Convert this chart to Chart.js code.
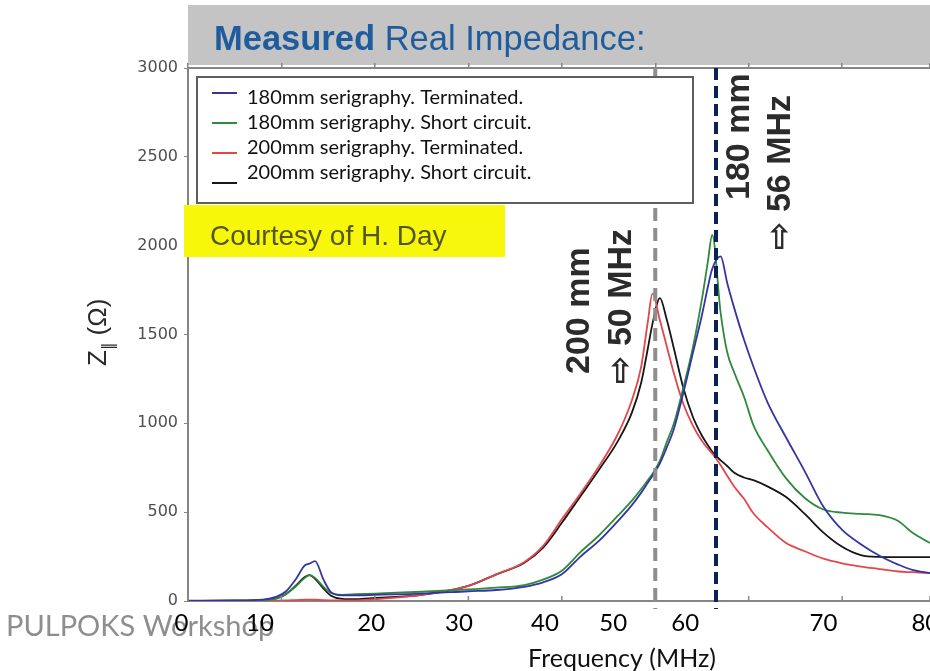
<!DOCTYPE html>
<html>
<head>
<meta charset="utf-8">
<script src="https://cdn.jsdelivr.net/npm/chart.js@4.4.0/dist/chart.umd.min.js"></script>
<style>
html, body { margin: 0; padding: 0; background: #fff; }
canvas { display: block; }
</style>
</head>
<body>
<canvas id="imp_chart" width="930" height="671"></canvas>
<script>
// frequency grid (MHz) shared by all four traces
const freq = [0, 5, 8, 9.5, 10.5, 11.5, 12.5, 13, 13.6, 14.5, 15.3, 16.5, 18, 20, 25, 30, 33, 36, 38, 40,
	42, 44, 46, 47.5, 48.5, 49.2, 49.7, 50.5, 51.2, 52, 53, 54, 55, 55.6, 56.1, 57, 57.7, 58.5, 59.5, 60.5,
	62, 64, 66, 68, 70, 72, 74, 76, 77.5, 79.4];

// real impedance (Ohm)
const z180term = [2, 3, 8, 25, 55, 120, 200, 210, 225, 120, 50, 32, 32, 35, 42, 55, 62, 80, 105, 150,
	250, 340, 450, 540, 610, 665, 705, 775, 860, 970, 1170, 1390, 1610, 1760, 1870, 1940, 1790, 1640, 1470, 1320,
	1120, 920, 730, 530, 400, 320, 255, 205, 175, 157];
const z180short = [1, 2, 5, 15, 40, 80, 130, 146, 130, 80, 45, 35, 38, 42, 52, 65, 75, 90, 120, 170,
	275, 370, 480, 565, 630, 680, 715, 790, 890, 1000, 1200, 1420, 1700, 1900, 2060, 1620, 1400, 1280, 1150, 990,
	850, 690, 580, 515, 497, 490, 483, 450, 385, 326];
const z200term = [0, 0, 1, 2, 3, 5, 7, 8, 7, 5, 4, 3, 4, 10, 35, 85, 150, 220, 310, 460,
	605, 760, 940, 1130, 1320, 1570, 1730, 1580, 1440, 1280, 1110, 990, 900, 860, 830, 764, 705, 640, 575, 494,
	416, 326, 280, 238, 212, 194, 180, 166, 162, 157];
const z200short = [0, 2, 5, 15, 40, 85, 135, 146, 125, 70, 30, 12, 10, 17, 34, 85, 150, 215, 300, 440,
	590, 740, 900, 1060, 1230, 1420, 1560, 1705, 1590, 1420, 1200, 1040, 930, 880, 840, 792, 760, 720, 695, 680,
	645, 585, 490, 385, 305, 258, 248, 247, 247, 247];

const series_names = [
	'180mm serigraphy. Terminated.',
	'180mm serigraphy. Short circuit.',
	'200mm serigraphy. Terminated.',
	'200mm serigraphy. Short circuit.'
];

// the slide's tick labels sit where they were pasted, not on the plot ticks
const x_label_text = ['0', '10', '20', '30', '40', '50', '60', '70', '80'];
const x_label_at = [-0.7, 7.7, 19.6, 29.0, 38.2, 45.5, 53.2, 68.0, 78.9];

const y_ticks = [0, 500, 1000, 1500, 2000, 2500, 3000];

// resonance markers
const marker_freq = [50, 56.5];
const marker_len = ['200 mm', '180 mm'];
const marker_mhz = ['\u21E8 50 MHz', '\u21E8 56 MHz'];

const title_bold = 'Measured';
const title_rest = 'Real Impedance:';
const courtesy = 'Courtesy of H. Day';
const footer = 'PULPOKS Workshop';
const x_title = 'Frequency (MHz)';

const line_settings = {
	fill: false,
	borderWidth: 1.8,
	pointRadius: 0,
	cubicInterpolationMode: 'monotone'
};

function pts(ys) {
	return freq.map((f, i) => ({ x: f, y: ys[i] }));
}

function vtext(ctx, txt, x, y) {
	ctx.save();
	ctx.translate(x, y);
	ctx.rotate(-Math.PI / 2);
	ctx.textAlign = 'left';
	ctx.textBaseline = 'middle';
	ctx.fillText(txt, 0, 0);
	ctx.restore();
}

const slide_plugin = {
	id: 'slide',
	beforeDraw(chart) {
		const ctx = chart.ctx;
		const area = chart.chartArea;
		ctx.save();
		ctx.fillStyle = '#fff';
		ctx.fillRect(0, 0, chart.width, chart.height);

		// grey header band + title
		ctx.fillStyle = '#c4c4c4';
		ctx.fillRect(area.left, 5, chart.width - area.left, area.top - 8);
		ctx.textBaseline = 'alphabetic';
		ctx.textAlign = 'left';
		ctx.fillStyle = '#1f5c9e';
		ctx.font = 'bold 34.5px "Liberation Sans"';
		ctx.fillText(title_bold, 214, 50);
		const w = ctx.measureText(title_bold + ' ').width;
		ctx.font = '34.5px "Liberation Sans"';
		ctx.fillText(title_rest, 214 + w, 50);

		// footer
		ctx.fillStyle = '#8e8e8e';
		ctx.font = '29px Lato';
		ctx.fillText(footer, 6, 636);
		ctx.restore();
	},
	afterDatasetsDraw(chart) {
		const ctx = chart.ctx;
		const area = chart.chartArea;
		const xs = chart.scales.x;
		ctx.save();

		// small inward ticks on the bottom frame
		ctx.strokeStyle = '#8a8a8a';
		ctx.lineWidth = 1.5;
		chart.scales.xTop.ticks.forEach(t => {
			const px = xs.getPixelForValue(t.value);
			ctx.beginPath();
			ctx.moveTo(px, area.bottom);
			ctx.lineTo(px, area.bottom - 5);
			ctx.stroke();
		});

		// dashed resonance lines
		const dash_col = ['#8e8e8e', '#0b2350'];
		const dash_pat = [[13, 7], [12, 6]];
		marker_freq.forEach((f, i) => {
			const px = xs.getPixelForValue(f);
			ctx.strokeStyle = dash_col[i];
			ctx.lineWidth = 4;
			ctx.setLineDash(dash_pat[i]);
			ctx.beginPath();
			ctx.moveTo(px, area.top);
			ctx.lineTo(px, area.bottom + 8);
			ctx.stroke();
		});
		ctx.setLineDash([]);

		// legend box
		ctx.fillStyle = '#fff';
		ctx.fillRect(197, 77, 496, 126);
		ctx.strokeStyle = '#5e5e5e';
		ctx.lineWidth = 2;
		ctx.strokeRect(197, 77, 496, 126);
		ctx.font = '20px Lato';
		ctx.textBaseline = 'middle';
		ctx.textAlign = 'left';
		chart.data.datasets.forEach((ds, i) => {
			const ty = 98 + i * 25;
			const ly = 93 + i * 30;
			ctx.strokeStyle = ds.borderColor;
			ctx.lineWidth = 2;
			ctx.beginPath();
			ctx.moveTo(212, ly);
			ctx.lineTo(237, ly);
			ctx.stroke();
			ctx.fillStyle = '#111';
			ctx.fillText(ds.label, 247, ty);
		});

		// yellow credit box
		ctx.fillStyle = '#f7f70c';
		ctx.fillRect(184, 205, 321, 52);
		ctx.fillStyle = '#55551e';
		ctx.font = '28px "Liberation Sans"';
		ctx.textBaseline = 'alphabetic';
		ctx.fillText(courtesy, 210, 245);

		// rotated marker labels
		ctx.fillStyle = '#2b2b2b';
		ctx.font = 'bold 34px "Liberation Sans", "DejaVu Sans"';
		const p0 = xs.getPixelForValue(marker_freq[0]);
		const p1 = xs.getPixelForValue(marker_freq[1]);
		vtext(ctx, marker_len[0], p0 - 76, 374);
		vtext(ctx, marker_mhz[0], p0 - 34, 384);
		vtext(ctx, marker_len[1], p1 + 24, 200);
		vtext(ctx, marker_mhz[1], p1 + 65, 250);
		ctx.restore();
	},
	afterDraw(chart) {
		const ctx = chart.ctx;
		ctx.save();
		// x title
		ctx.fillStyle = '#111';
		ctx.font = '25px Lato';
		ctx.textAlign = 'center';
		ctx.textBaseline = 'middle';
		ctx.fillText(x_title, 622, 659);

		// y title  Z|| (Ohm)
		ctx.translate(106, 366);
		ctx.rotate(-Math.PI / 2);
		ctx.textAlign = 'left';
		ctx.textBaseline = 'alphabetic';
		ctx.fillStyle = '#2a2a2a';
		ctx.font = '26px "Liberation Sans"';
		ctx.fillText('Z', 0, 0);
		let off = ctx.measureText('Z').width;
		ctx.font = '15px "DejaVu Sans"';
		ctx.fillText('\u2016', off, 7);
		off += ctx.measureText('\u2016').width;
		ctx.font = '26px "Liberation Sans"';
		ctx.fillText(' (\u03A9)', off, 0);
		ctx.restore();
	}
};

const chart_data = {
	datasets: [{
		label: series_names[0],
		data: pts(z180term),
		borderColor: '#3535a2',
		...line_settings
	}, {
		label: series_names[1],
		data: pts(z180short),
		borderColor: '#2f8a3c',
		...line_settings
	}, {
		label: series_names[2],
		data: pts(z200term),
		borderColor: '#e2474c',
		...line_settings
	}, {
		label: series_names[3],
		data: pts(z200short),
		borderColor: '#161616',
		...line_settings
	}]
};

const options = {
	responsive: false,
	animation: false,
	layout: {
		padding: { top: 68, right: 0, bottom: 0, left: 0 }
	},
	plugins: {
		legend: { display: false },
		tooltip: { enabled: false },
		title: { display: false }
	},
	scales: {
		x: {
			type: 'linear',
			position: 'bottom',
			min: 0,
			max: 79.4,
			grid: { display: true, drawOnChartArea: false, drawTicks: false },
			border: { color: '#858585', width: 2 },
			afterBuildTicks: (s) => {
				s.ticks = x_label_at.map(v => ({ value: v }));
			},
			afterFit: (s) => {
				s.height = 70;
				s.paddingLeft = 0;
				s.paddingRight = 0;
			},
			ticks: {
				autoSkip: false,
				maxRotation: 0,
				minRotation: 0,
				padding: 8,
				color: '#000',
				font: { family: 'Lato', size: 24 },
				callback: (val, i) => x_label_text[i]
			}
		},
		xTop: {
			type: 'linear',
			position: 'top',
			min: 0,
			max: 79.4,
			grid: { drawOnChartArea: false, drawTicks: true, tickLength: 5, color: '#858585', lineWidth: 1.5 },
			border: { color: '#858585', width: 2 },
			ticks: { stepSize: 10, display: false },
			afterFit: (s) => {
				s.height = 0;
				s.paddingLeft = 0;
				s.paddingRight = 0;
			}
		},
		y: {
			type: 'linear',
			min: 0,
			max: 3000,
			grid: { drawOnChartArea: false, drawTicks: true, tickLength: 4, color: '#858585' },
			border: { color: '#858585', width: 2 },
			afterBuildTicks: (s) => {
				s.ticks = y_ticks.map(v => ({ value: v }));
			},
			afterFit: (s) => {
				s.width = 188;
			},
			ticks: {
				padding: 6,
				color: '#4e4e4e',
				font: { family: 'DejaVu Sans', size: 16 },
				callback: (val) => String(val)
			}
		}
	}
};

const imp_ctx = document.getElementById('imp_chart').getContext('2d');
const imp_chart = new Chart(imp_ctx, {
	type: 'line',
	data: chart_data,
	options: options,
	plugins: [slide_plugin]
});
</script>
</body>
</html>
